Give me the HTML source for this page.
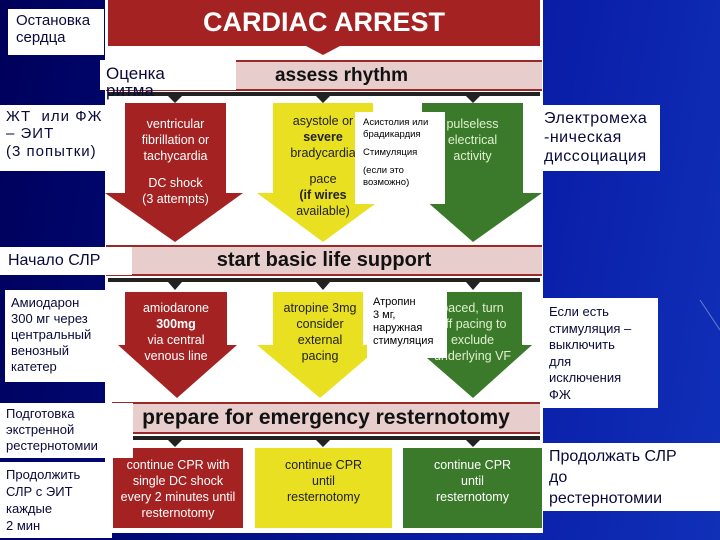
<!DOCTYPE html>
<html><head><meta charset="utf-8"><style>
body{margin:0;width:720px;height:540px;overflow:hidden;position:relative;background:linear-gradient(100deg,#00005a 0%,#000a78 30%,#0a1ea8 70%,#1030b8 100%);font-family:"Liberation Sans","DejaVu Sans",sans-serif}
.a{position:absolute}
.w{position:absolute;background:#fff;color:#0a0a3a;line-height:1.15}
.t{position:absolute;text-align:center;color:#fff;font-size:12.5px;line-height:16px}
.bar{position:absolute;background:#e7cdcb;border-top:2px solid #9a2a2a;border-bottom:2px solid #9a2a2a;text-align:center;font-weight:bold;color:#111}
</style></head><body>
<div class="a" style="left:105px;top:0;width:438px;height:533px;background:#fff"></div>
<svg class="a" style="left:0;top:0" width="720" height="540">
<polygon points="108,0 540,0 540,46 340,46 323,55 306,46 108,46" fill="#a52222"/>
<polygon points="108,92 540,92 540,96 480,96 473,103 466,96 330,96 323,103 316,96 182,96 175,103 168,96 108,96" fill="#222"/>
<polygon points="125,103 226,103 226,193 243,193 175,242 105,193 125,193" fill="#a52222"/>
<polygon points="273,103 373,103 373,193 390,193 323,242 257,193 273,193" fill="#e8e020"/>
<polygon points="422,103 523,103 523,193 542,193 473,242 417,193 422,193" fill="#3a7a2a"/>
<polygon points="108,278 540,278 540,282 480,282 473,290 466,282 330,282 323,290 316,282 182,282 175,290 168,282 108,282" fill="#222"/>
<polygon points="125,292 227,292 227,345 237,345 177,398 118,345 125,345" fill="#a52222"/>
<polygon points="273,292 363,292 363,345 382,345 320,398 257,345 273,345" fill="#e8e020"/>
<polygon points="415,292 522,292 522,345 532,345 473,398 412,345 415,345" fill="#3a7a2a"/>
<polygon points="112,436 540,436 540,440 480,440 473,447 466,440 330,440 323,447 316,440 182,440 175,447 168,440 112,440" fill="#222"/>
<rect x="113" y="448" width="130" height="80" fill="#a52222"/>
<rect x="255" y="448" width="137" height="80" fill="#e8e020"/>
<rect x="403" y="448" width="139" height="80" fill="#3a7a2a"/>
<line x1="700" y1="300" x2="720" y2="330" stroke="#6a80d0" stroke-width="1"/>
</svg>
<div class="t" style="left:108px;top:2px;width:432px;font-size:27px;line-height:40px;font-weight:bold">CARDIAC ARREST</div>
<div class="bar" style="left:106px;top:60px;width:436px;height:27px;font-size:19px;line-height:27px"><span style="margin-left:35px">assess rhythm</span></div>
<div class="t" style="left:125px;top:116px;width:101px">ventricular<br>fibrillation or<br>tachycardia<br><div style="height:11px"></div>DC shock<br>(3 attempts)</div>
<div class="t" style="left:268px;top:113px;width:110px;color:#222">asystole or<br><b>severe</b><br>bradycardia<br><div style="height:10px"></div>pace<br><b>(if wires</b><br>available)</div>
<div class="t" style="left:422px;top:116px;width:101px;color:#e0f0d0">pulseless<br>electrical<br>activity</div>
<div class="bar" style="left:106px;top:245px;width:436px;height:27px;font-size:20px;line-height:27px">start basic life support</div>
<div class="t" style="left:120px;top:300px;width:112px">amiodarone<br><b>300mg</b><br>via central<br>venous line</div>
<div class="t" style="left:265px;top:300px;width:110px;color:#222">atropine 3mg<br>consider<br>external<br>pacing</div>
<div class="t" style="left:420px;top:300px;width:105px;color:#e0f0d0">paced, turn<br>off pacing to<br>exclude<br>underlying VF</div>
<div class="bar" style="left:112px;top:402px;width:428px;height:28px;font-size:21px;line-height:28px">prepare for emergency resternotomy</div>
<div class="t" style="left:110px;top:457px;width:136px">continue CPR with<br>single DC shock<br>every 2 minutes until<br>resternotomy</div>
<div class="t" style="left:255px;top:457px;width:137px;color:#222">continue CPR<br>until<br>resternotomy</div>
<div class="t" style="left:403px;top:457px;width:139px">continue CPR<br>until<br>resternotomy</div>

<div class="w" style="left:8px;top:9px;width:96px;height:46px;font-size:15px;padding:3px 0 0 8px;box-sizing:border-box">Остановка<br>сердца</div>
<div class="w" style="left:100px;top:60px;width:136px;height:30px;font-size:17px;padding:4px 0 0 6px;box-sizing:border-box;overflow:visible">Оценка<br><span style="position:relative;top:-3px">ритма</span></div>
<div class="w" style="left:0;top:105px;width:108px;height:66px;font-size:15px;padding:3px 0 0 6px;box-sizing:border-box;letter-spacing:1px">ЖТ &nbsp;или ФЖ<br>– ЭИТ<br>(3 попытки)</div>
<div class="w" style="left:355px;top:112px;width:90px;height:92px;font-size:9.5px;padding:5px 0 0 8px;box-sizing:border-box;color:#000;line-height:12px">Асистолия или<br>брадикардия<div style="height:6px"></div>Стимуляция<div style="height:6px"></div>(если это<br>возможно)</div>
<div class="w" style="left:540px;top:105px;width:120px;height:66px;font-size:16px;padding:4px 0 0 4px;box-sizing:border-box;line-height:19px;letter-spacing:0.5px">Электромеха<br>-ническая<br>диссоциация</div>
<div class="w" style="left:0;top:247px;width:132px;height:28px;font-size:16px;padding:5px 0 0 8px;box-sizing:border-box">Начало СЛР</div>
<div class="w" style="left:5px;top:290px;width:107px;height:92px;font-size:13px;padding:5px 0 0 6px;box-sizing:border-box;line-height:16px">Амиодарон<br>300 мг через<br>центральный<br>венозный<br>катетер</div>
<div class="w" style="left:367px;top:292px;width:80px;height:66px;font-size:11px;padding:4px 0 0 6px;box-sizing:border-box;line-height:13px;color:#000">Атропин<br>3 мг,<br>наружная<br>стимуляция</div>
<div class="w" style="left:543px;top:298px;width:115px;height:110px;font-size:13px;padding:6px 0 0 6px;box-sizing:border-box;line-height:16.5px">Если есть<br>стимуляция –<br>выключить<br>для<br>исключения<br>ФЖ</div>
<div class="w" style="left:0;top:403px;width:133px;height:55px;font-size:13px;padding:3px 0 0 6px;box-sizing:border-box;line-height:16px">Подготовка<br>экстренной<br>рестернотомии</div>
<div class="w" style="left:0;top:462px;width:112px;height:76px;font-size:13px;padding:4px 0 0 6px;box-sizing:border-box;line-height:17px">Продолжить<br>СЛР с ЭИТ<br>каждые<br>2 мин</div>
<div class="w" style="left:543px;top:443px;width:177px;height:68px;font-size:16px;padding:3px 0 0 6px;box-sizing:border-box;line-height:21px">Продолжать СЛР<br>до<br>рестернотомии</div>
</body></html>
